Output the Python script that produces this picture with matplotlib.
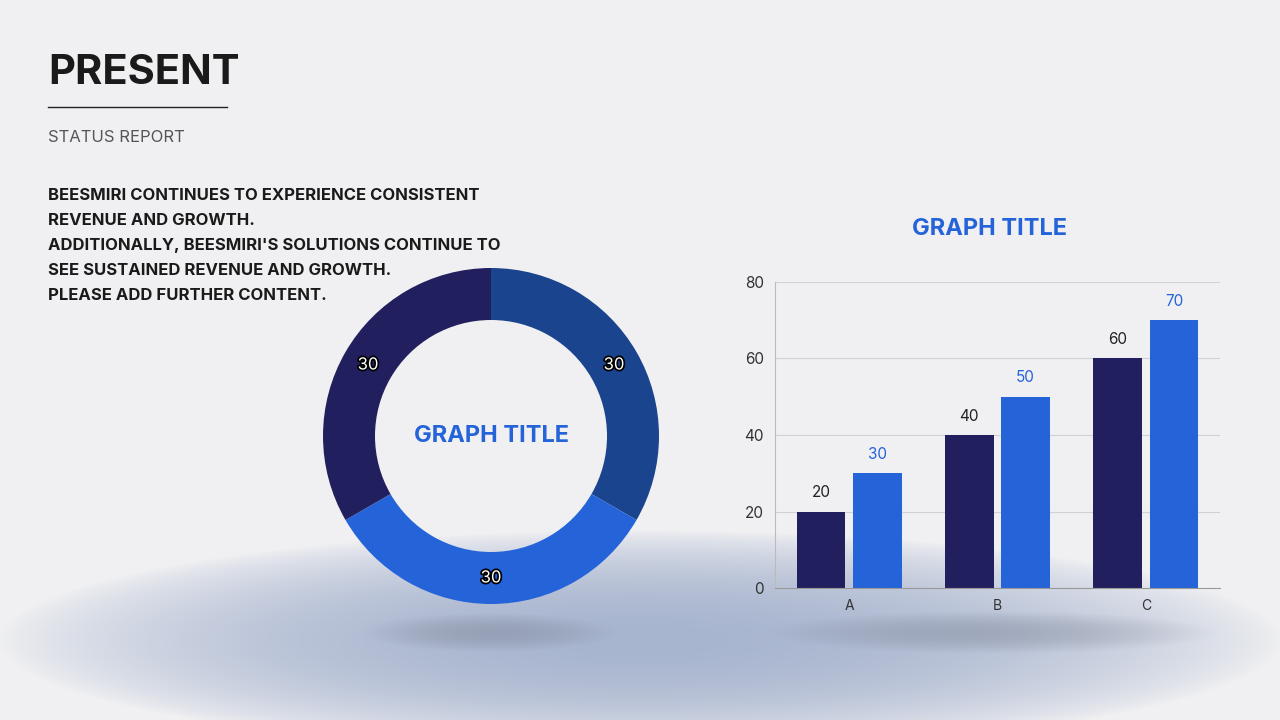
import numpy as np
import matplotlib
matplotlib.use("Agg")
import matplotlib.pyplot as plt
import matplotlib.patheffects as pe

donut_values = [30, 30, 30]
donut_labels = ["30", "30", "30"]
categories = ["A", "B", "C"]
series1 = [20, 40, 60]
series2 = [30, 50, 70]
yticks = [0, 20, 40, 60, 80]

DARK = "#221f5e"; MID = "#1b448f"; BLUE = "#2563d9"
FONT = ["Inter", "DejaVu Sans"]

fig = plt.figure(figsize=(12.8, 7.2), dpi=100)
fig.patch.set_facecolor("#f0f0f2")

# background with soft bluish shadow
bg = fig.add_axes([0, 0, 1, 1], zorder=-10)
yy, xx = np.mgrid[0:720, 0:1280]
d = ((xx - 640) / 640.0) ** 2 + ((yy - 640) / 110.0) ** 2
shade = np.clip(1 - d, 0, 1) ** 0.8
base = np.array([0xf0, 0xf0, 0xf2]) / 255
tint = np.array([0xa8, 0xb5, 0xcf]) / 255
img = base[None, None, :] * (1 - shade[..., None]) + tint[None, None, :] * shade[..., None]
for cx, cy, rx, ry in [(490, 632, 130, 20), (990, 632, 230, 22)]:
    s = np.clip(1 - (((xx - cx) / rx) ** 2 + ((yy - cy) / ry) ** 2), 0, 1) ** 1.2
    img = img * (1 - 0.35 * s[..., None]) + (np.array([0x70, 0x78, 0x88]) / 255) * 0.35 * s[..., None]
bg.imshow(img, extent=[0, 1280, 720, 0], aspect="auto")
bg.set_xlim(0, 1280); bg.set_ylim(720, 0); bg.axis("off")

# texts
fig.text(48 / 1280, 1 - 73 / 720, "PRESENT", fontsize=30, fontweight="bold", color="#1a1a1a",
         family=FONT, va="center")
fig.add_artist(plt.Line2D([48 / 1280, 227 / 1280], [1 - 107 / 720] * 2, color="#222", lw=1))
fig.text(48 / 1280, 1 - 137 / 720, "STATUS REPORT", fontsize=12, color="#555", family=FONT, va="center")
body = ["BEESMIRI CONTINUES TO EXPERIENCE CONSISTENT", "REVENUE AND GROWTH.",
        "ADDITIONALLY, BEESMIRI'S SOLUTIONS CONTINUE TO", "SEE SUSTAINED REVENUE AND GROWTH.",
        "PLEASE ADD FURTHER CONTENT."]
for i, line in enumerate(body):
    fig.text(48 / 1280, 1 - (196 + 24.8 * i) / 720, line, fontsize=12, fontweight="bold",
             color="#1a1a1a", family=FONT, va="center")

# donut
ax = fig.add_axes([(491 - 170) / 1280, 1 - (436 + 170) / 720, 340 / 1280, 340 / 720])
wedges, _ = ax.pie(donut_values, colors=[MID, BLUE, DARK], startangle=90, counterclock=False,
                   radius=168 / 170, wedgeprops=dict(width=52 / 170, edgecolor="none"))
r = (168 - 26) / 170
for w, lab in zip(wedges, donut_labels):
    ang = np.deg2rad((w.theta1 + w.theta2) / 2)
    ax.text(r * np.cos(ang), r * np.sin(ang), lab, ha="center", va="center", fontsize=12,
            color="white", family=FONT,
            path_effects=[pe.withStroke(linewidth=2.5, foreground="black")])
ax.text(0, 0, "GRAPH TITLE", ha="center", va="center", fontsize=17, fontweight="bold",
        color=BLUE, family=FONT)
ax.set_xlim(-1, 1); ax.set_ylim(-1, 1); ax.set_aspect("equal"); ax.axis("off")

# bar chart
bx = fig.add_axes([775 / 1280, 1 - 588 / 720, 445 / 1280, 306 / 720])
bx.set_facecolor("none")
x = np.arange(len(categories))
w = 0.33
b1 = bx.bar(x - 0.19, series1, w, color=DARK)
b2 = bx.bar(x + 0.19, series2, w, color=BLUE)
for b, v in zip(b1, series1):
    bx.text(b.get_x() + b.get_width() / 2, v + 3, str(v), ha="center", va="bottom", fontsize=11,
            color="#222", family=FONT)
for b, v in zip(b2, series2):
    bx.text(b.get_x() + b.get_width() / 2, v + 3, str(v), ha="center", va="bottom", fontsize=11,
            color=BLUE, family=FONT)
bx.set_ylim(0, 80); bx.set_xlim(-0.5, 2.5)
bx.set_yticks(yticks)
bx.set_yticklabels([str(t) for t in yticks], family=FONT, fontsize=11, color="#333")
bx.set_xticks(x)
bx.set_xticklabels(categories, family=FONT, fontsize=10, color="#333")
bx.grid(axis="y", color="#d0d0d5", lw=0.8); bx.set_axisbelow(True)
for s in ["top", "right"]:
    bx.spines[s].set_visible(False)
bx.spines["left"].set_color("#bbb"); bx.spines["bottom"].set_color("#999")
bx.tick_params(length=0, pad=8)
fig.text(990 / 1280, 1 - 229 / 720, "GRAPH TITLE", ha="center", va="center", fontsize=17,
         fontweight="bold", color=BLUE, family=FONT)

fig.savefig("out.png", dpi=100, facecolor=fig.get_facecolor())
